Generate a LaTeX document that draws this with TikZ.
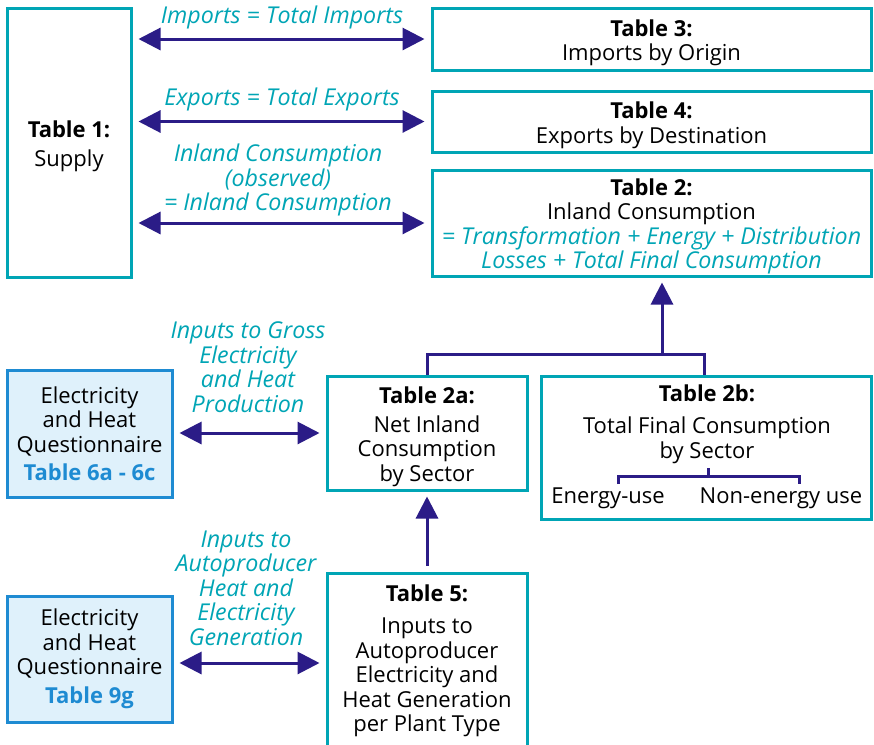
\documentclass[tikz,border=0pt]{standalone}
\usepackage{fontspec}
\setmainfont{Open Sans}
\usetikzlibrary{arrows.meta, positioning}

\definecolor{boxcyan}{HTML}{00A5B5}
\definecolor{arrowblue}{HTML}{2B1C87}
\definecolor{qblue}{HTML}{1E8BD2}
\definecolor{qfill}{HTML}{DFF1FB}

\newcommand{\flowit}{\fontsize{11.6}{12.25}\selectfont\itshape}
\newcommand{\tabtitle}[1]{\rule{0pt}{12pt}\textbf{#1}}

\begin{document}
\begin{tikzpicture}[x=0.5pt, y=-0.5pt,
    every node/.style={font=\fontsize{11}{12.25}\selectfont, align=center, inner sep=0pt},
    tbl/.style={draw=boxcyan, line width=1.5pt},
    quest/.style={draw=qblue, fill=qfill, line width=1.5pt},
    flowlabel/.style={text=boxcyan, font=\flowit},
    dblarrow/.style={draw=arrowblue, line width=1.5pt, {Triangle[length=11pt, width=11pt]}-{Triangle[length=11pt, width=11pt]}, shorten <=3pt, shorten >=3pt},
    arr/.style={draw=arrowblue, line width=1.5pt, -{Triangle[length=11pt, width=11pt]}},
    bracket/.style={draw=arrowblue, line width=1.5pt}]

    \clip (0,0) rectangle (874,745);
    \fill[white] (0,0) rectangle (874,745);

    % tables on the top
    \node[tbl, minimum width=62pt, minimum height=134.5pt] (t1) at (69, 142.5) {\tabtitle{Table 1:}\\[2pt]Supply};
    \node[tbl, minimum width=219.5pt, minimum height=31pt] (t3) at (651.5, 39) {\tabtitle{Table 3:}\\Imports by Origin};
    \node[tbl, minimum width=219.5pt, minimum height=30.5pt] (t4) at (651.5, 121.5) {\tabtitle{Table 4:}\\Exports by Destination};
    \node[tbl, minimum width=219.5pt, minimum height=53pt] (t2) at (651.5, 223) {\tabtitle{Table 2:}\\Inland Consumption\\
        \textcolor{boxcyan}{\flowit = Transformation + Energy + Distribution}\\
        \textcolor{boxcyan}{\flowit Losses + Total Final Consumption}};

    % tables in the middle
    \node[tbl, minimum width=100pt, minimum height=57pt] (t2a) at (427, 433) {\tabtitle{Table 2a:}\\[2pt]Net Inland\\Consumption\\by Sector};
    \node[tbl, minimum width=165pt, minimum height=71.5pt] (t2b) at (706, 447.5) {};
    \node (t2btext) at (707, 424) {\textbf{Table 2b:}\\[4pt]Total Final Consumption\\by Sector};
    \node (eu) at (608, 498) {Energy-use};
    \node (neu) at (781, 498) {Non-energy use};

    % table at the bottom
    \node[tbl, minimum width=100pt, minimum height=110pt] (t5) at (427, 683) {};
    \node (t5text) at (427, 661) {\textbf{Table 5:}\\[4pt]Inputs to\\Autoproducer\\Electricity and\\Heat Generation\\per Plant Type};

    % questionnaires
    \node[quest, minimum width=82.5pt, minimum height=63.5pt] (q1) at (89.5, 433.5) {Electricity\\and Heat\\Questionnaire\\[2pt]\textcolor{qblue}{\textbf{Table 6a - 6c}}};
    \node[quest, minimum width=82.5pt, minimum height=63pt] (q2) at (89.5, 659) {Electricity\\and Heat\\Questionnaire\\[2pt]\textcolor{qblue}{\textbf{Table 9g}}};

    % labels
    \node[flowlabel] (limp) at (282, 17) {Imports = Total Imports};
    \node[flowlabel] (lexp) at (282, 99) {Exports = Total Exports};
    \node[flowlabel] (linl) at (278, 180) {Inland Consumption\\(observed)\\= Inland Consumption};
    \node[flowlabel] (lgross) at (248, 367) {Inputs to Gross\\Electricity\\and Heat\\Production};
    \node[flowlabel] (lauto) at (246, 588) {Inputs to\\Autoproducer\\Heat and\\Electricity\\Generation};

    % connectors
    \draw[dblarrow] (t1.east |- t3.west) -- (t3.west);
    \draw[dblarrow] (t1.east |- t4.west) -- (t4.west);
    \draw[dblarrow] (t1.east |- t2.west) -- (t2.west);
    \draw[dblarrow] (q1.east |- t2a.west) -- (t2a.west);
    \draw[dblarrow] (q2.east |- 0,663) -- (t5.west |- 0,663);
    \draw[arr, shorten <=3pt, shorten >=2.5pt] (t5.north) -- (t2a.south);

    \coordinate (join) at (662, 354);
    \draw[bracket] (t2a.north) |- (join) -| (t2b.north -| 704,0);
    \draw[arr, shorten >=2.5pt] (join) -- (join |- t2.south);

    % split of final consumption
    \draw[bracket] (618, 484) |- (708, 476) -- (708, 468);
    \draw[bracket] (708, 476) -| (799, 484);
\end{tikzpicture}
\end{document}
